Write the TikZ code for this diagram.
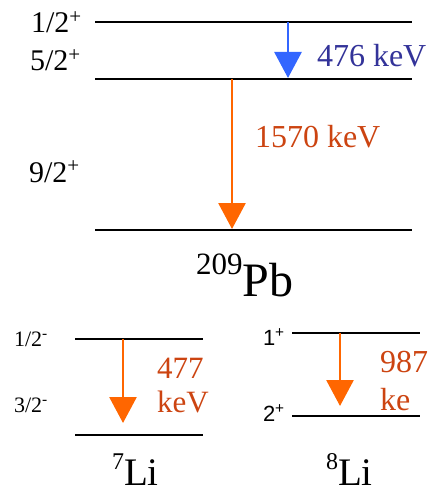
\documentclass[tikz,border=0pt]{standalone}
\usepackage{fontspec}
\setmainfont{Liberation Serif}
\newfontfamily\arialfont{Liberation Sans}
\usetikzlibrary{arrows.meta}
\definecolor{arrOrange}{HTML}{FF6600}
\definecolor{txtOrange}{HTML}{CC4411}
\definecolor{arrBlue}{HTML}{3366FF}
\definecolor{txtBlue}{HTML}{333399}
\tikzset{
  level/.style={line width=2pt, black},
  gamma/.style={line width=2.8pt, -{Triangle[width=27pt,length=26pt]}},
  lbl/.style={anchor=base west, inner sep=0pt, outer sep=0pt},
}
\newcommand{\fs}[1]{\fontsize{#1}{#1}\selectfont}
\begin{document}
\begin{tikzpicture}[x=1pt,y=-1pt]
\useasboundingbox (0,0) rectangle (429,492);
\clip (0,0) rectangle (429,492);
% 209Pb levels
\coordinate (pbAl) at (95,22);  \coordinate (pbAr) at (412,22);
\coordinate (pbBl) at (95,79);  \coordinate (pbBr) at (412,79);
\coordinate (pbCl) at (95,230); \coordinate (pbCr) at (412,230);
\draw[level] (pbAl) -- (pbAr);
\draw[level] (pbBl) -- (pbBr);
\draw[level] (pbCl) -- (pbCr);
\coordinate (bs) at (288,22);  \coordinate (be) at (288,78);
\draw[gamma, arrBlue] (bs) -- (be);
\coordinate (os) at (232,79);  \coordinate (oe) at (232,229);
\draw[gamma, arrOrange] (os) -- (oe);
\node[lbl] (l12) at (31,33) {\fs{30}1/2\textsuperscript{+}};
\node[lbl] (l52) at (30,71) {\fs{30}5/2\textsuperscript{+}};
\node[lbl] (l92) at (29,182) {\fs{30}9/2\textsuperscript{+}};
\node[lbl, text=txtBlue] (e476) at (317,67) {\fs{32}476 keV};
\node[lbl, text=txtOrange] (e1570) at (255,147) {\fs{32}1570 keV};
\node[lbl] (pb) at (196,296) {\raisebox{22pt}{\fs{31}209}\fs{48}Pb};
% 7Li
\coordinate (liAl) at (75,339); \coordinate (liAr) at (203,339);
\coordinate (liBl) at (75,435); \coordinate (liBr) at (203,435);
\draw[level] (liAl) -- (liAr);
\draw[level] (liBl) -- (liBr);
\coordinate (ls) at (123,339); \coordinate (le) at (123,423);
\draw[gamma, arrOrange] (ls) -- (le);
\node[lbl] (l7a) at (14,346) {\fs{22}1/2\textsuperscript{-}};
\node[lbl] (l7b) at (14,412) {\fs{22}3/2\textsuperscript{-}};
\node[lbl, text=txtOrange] (e477) at (157,378) {\fs{31}477};
\node[lbl, text=txtOrange] (e477k) at (157,412) {\fs{31}keV};
\node[lbl] (li7) at (112,485) {\raisebox{16pt}{\fs{24}7}\fs{39}Li};
% 8Li
\coordinate (mAl) at (292,333); \coordinate (mAr) at (420,333);
\coordinate (mBl) at (292,416); \coordinate (mBr) at (420,416);
\draw[level] (mAl) -- (mAr);
\draw[level] (mBl) -- (mBr);
\coordinate (ms) at (340,333); \coordinate (me) at (340,406);
\draw[gamma, arrOrange] (ms) -- (me);
\node[lbl] (l8a) at (263,345) {\arialfont\fs{22}1\textsuperscript{+}};
\node[lbl] (l8b) at (263,421) {\arialfont\fs{22}2\textsuperscript{+}};
\node[lbl, text=txtOrange] (e987) at (380,372) {\fs{32}987};
\node[lbl, text=txtOrange] (e987k) at (380,410) {\fs{32}ke};
\node[lbl] (li8) at (326,485) {\raisebox{16pt}{\fs{24}8}\fs{39}Li};
\end{tikzpicture}
\end{document}
